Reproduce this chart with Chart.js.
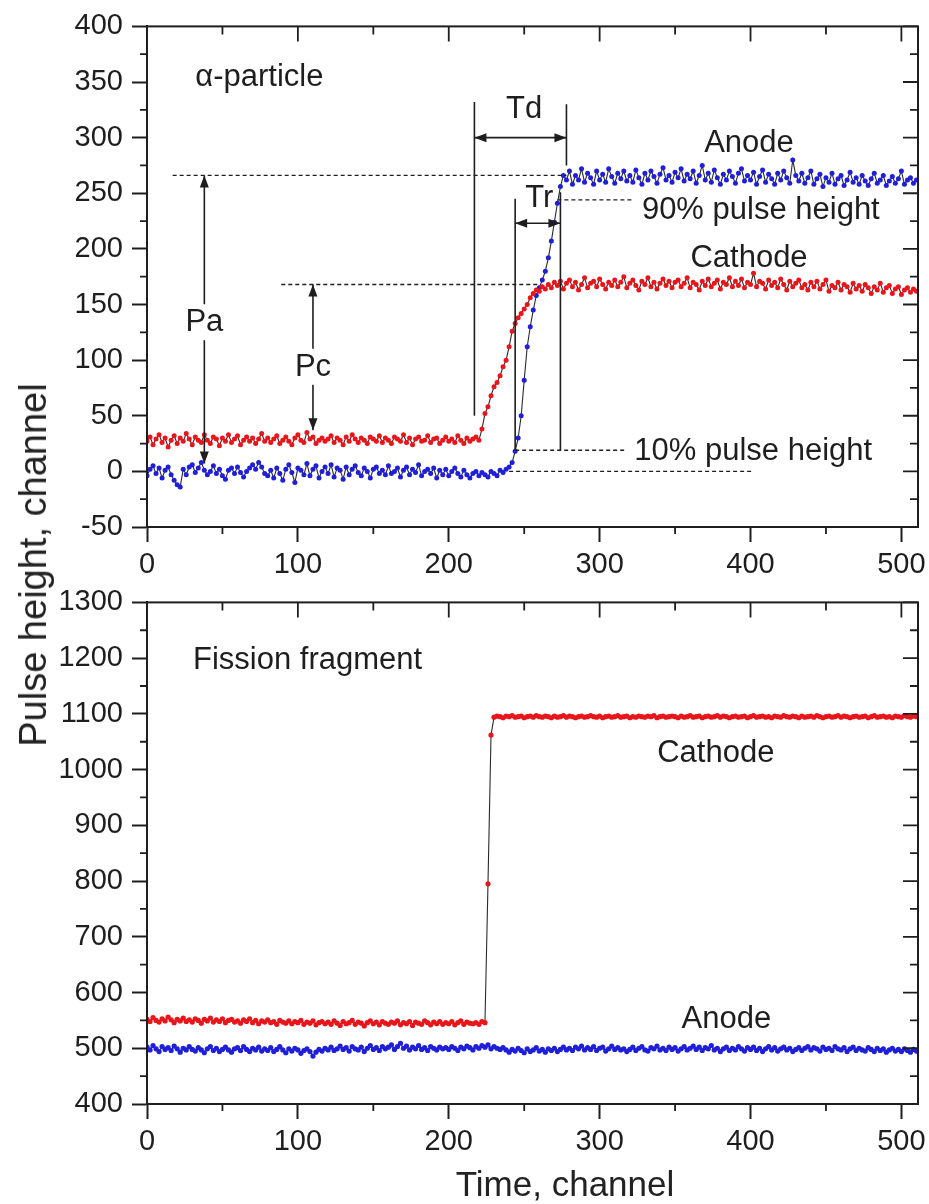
<!DOCTYPE html>
<html><head><meta charset="utf-8">
<script src="https://cdn.jsdelivr.net/npm/chart.js@4.4.1/dist/chart.umd.min.js"></script>
<style>
html,body{margin:0;padding:0;background:#fff;}
#wrap{position:relative;width:929px;height:1204px;overflow:hidden;font-family:"Liberation Sans",Arial,sans-serif;background:#fff;}
#c1{position:absolute;left:0;top:0;}
#c2{position:absolute;left:0;top:576px;}
.axt{position:absolute;white-space:nowrap;color:#222;line-height:1;}
</style></head><body>
<div id="wrap">
<canvas id="c1" width="929" height="600" style="width:929px;height:600px"></canvas>
<canvas id="c2" width="929" height="628" style="width:929px;height:628px"></canvas>
<div class="axt" style="left:33px;top:565px;font-size:38px;transform:translate(-50%,-50%) rotate(-90deg);">Pulse height, channel</div>
<div class="axt" style="left:565px;top:1183px;font-size:35px;transform:translate(-50%,-50%);">Time, channel</div>
</div>
<script>
// ---- data (channel step between samples) ----
const CH_STEP = 2;
const X_MAX = 511;

// Top panel (alpha particle), anode
const topAnode = [
 -4, 2, 5, -2, 3, -6, 1, 4, -3, -8, -12, -14, 2, -3, 4, 6, -1, 3, 8, 1,
 -3, 0, 5, -2, 2, -4, -7, 1, 3, -2, 4, -1, -5, 0, 3, 6, 2, 8, 4, -2,
 -4, 1, -6, 3, -2, -8, 2, 6, -1, -10, 3, 1, -3, 7, -4, 2, 5, -6, 0, 4,
 -2, 6, -5, 3, 1, -7, 4, -3, 2, 5, -1, -4, 3, 0, -6, 2, 4, -2, 1, -3,
 5, -2, 0, 3, -5, 1, 4, -3, 2, -1, 6, -4, 0, 2, -2, 3, -6, 1, -3, 2,
 -4, 0, 3, -2, -5, 1, -3, -6, -2, 0, -4, -1, -3, -5, 0, -2, -4, 1, -1, 2, 4,
 8, 18, 30, 50, 82, 112, 130, 145, 158, 165, 172, 180, 192, 207, 224, 241, 256, 266, 262,
 270, 258, 266, 262, 272, 260, 268, 264, 258, 270, 262, 267, 260, 272, 265, 259, 268, 263, 270, 261,
 266, 260, 271, 264, 258, 268, 262, 270, 265, 259, 267, 273, 262, 266, 260, 269, 264, 272, 261, 267,
 263, 270, 259, 266, 275, 262, 268, 260, 271, 264, 258, 267, 262, 270, 265, 259, 268, 272, 261, 266,
 262, 269, 258, 265, 271, 260, 267, 263, 258, 268, 262, 270, 264, 259, 280, 266, 261, 268, 259, 264,
 270, 258, 263, 267, 256, 264, 260, 268, 258, 263, 266, 257, 262, 269, 260, 264, 258, 266, 261, 257,
 263, 268, 259, 262, 266, 257, 261, 265, 259, 263, 270, 258, 262, 264, 259, 262
];
// Top panel, cathode
const topCathode = [
 27, 31, 24, 29, 33, 26, 30, 22, 28, 32, 25, 30, 27, 34, 29, 24, 31, 28, 26, 33,
 28, 25, 31, 29, 23, 30, 27, 33, 26, 29, 32, 24, 28, 31, 27, 30, 25, 29, 34, 27,
 30, 26, 29, 32, 25, 28, 31, 27, 24, 30, 33, 28, 26, 35, 29, 31, 25, 28, 30, 27,
 29, 32, 26, 30, 28, 24, 31, 27, 33, 29, 26, 30, 28, 25, 31, 29, 27, 32, 26, 30,
 28, 25, 31, 29, 27, 33, 26, 30, 24, 29, 31, 27, 28, 32, 26, 29, 30, 25, 28, 31,
 27, 29, 26, 32, 28, 25, 30, 27, 29, 31, 28,
 38, 52, 58, 68, 76, 80, 86, 94, 100, 112, 126, 133, 138, 142, 146, 150, 156, 160, 163, 162, 166, 164, 168, 165, 170,
 167, 171, 164, 169, 172, 166, 170, 163, 168, 174, 165, 169, 171, 166, 173, 168, 164, 170, 167, 172,
 166, 170, 175, 165, 169, 172, 167, 163, 171, 168, 174, 166, 170, 164, 169, 173, 167, 171, 165, 170,
 172, 166, 169, 174, 165, 170, 168, 163, 171, 167, 173, 166, 169, 172, 164, 170, 168, 174, 166, 171,
 167, 173, 165, 170, 168, 178, 166, 171, 169, 164, 172, 167, 170, 165, 173, 168, 163, 171, 166, 169,
 172, 165, 168, 163, 170, 166, 171, 164, 168, 172, 162, 167, 165, 170, 163, 168, 166, 161, 169, 164,
 167, 162, 168, 165, 160, 166, 163, 169, 161, 165, 167, 160, 164, 166, 159, 163, 165, 161, 164, 162
];
// Bottom panel (fission fragment), cathode
const bottomCathode = [
 552, 548, 555, 550, 547, 553, 549, 556, 551, 546, 552, 549, 554, 548, 551, 547, 553, 550, 545, 552,
 549, 554, 547, 551, 548, 553, 546, 550, 552, 547, 549, 545, 551, 548, 553, 546, 550, 544, 549, 547,
 551, 546, 548, 543, 550, 547, 545, 549, 544, 548, 546, 550, 543, 547, 545, 549, 542, 546, 548, 544,
 547, 543, 549, 545, 541, 548, 544, 546, 550, 543, 547, 545, 540, 546, 549, 544, 547, 542, 548, 545,
 543, 547, 545, 549, 542, 546, 544, 548, 541, 547, 545, 543, 549, 546, 542, 547, 544, 548, 543, 546,
 544, 548, 542, 546, 549, 543, 547, 545, 544, 546, 543, 548,
 546, 795, 1062,
 1094, 1096, 1095, 1093, 1096, 1095, 1097, 1094, 1095, 1096,
 1093, 1095, 1096, 1094, 1097, 1095, 1094, 1096, 1095, 1093,
 1096, 1094, 1095, 1097, 1094, 1096, 1095, 1093, 1095, 1096,
 1094, 1095, 1097, 1095, 1094, 1096, 1093, 1095, 1096, 1094,
 1095, 1097, 1094, 1095, 1096, 1093, 1095, 1094, 1096, 1095,
 1094, 1096, 1095, 1097, 1093, 1095, 1096, 1094, 1095, 1096,
 1095, 1093, 1096, 1094, 1095, 1097, 1094, 1095, 1096, 1093,
 1095, 1096, 1094, 1095, 1097, 1094, 1096, 1095, 1093, 1095,
 1096, 1094, 1095, 1096, 1093, 1095, 1097, 1094, 1095, 1096,
 1094, 1095, 1093, 1096, 1095, 1094, 1097, 1095, 1094, 1096,
 1095, 1093, 1096, 1094, 1095, 1096, 1094, 1097, 1095, 1093,
 1095, 1096, 1094, 1095, 1097, 1094, 1096, 1095, 1093, 1095,
 1096, 1094, 1095, 1096, 1093, 1095, 1097, 1094, 1095, 1096,
 1094, 1095, 1093, 1096, 1095, 1094, 1097, 1095, 1094, 1096,
 1095
];
// Bottom panel, anode
const bottomAnode = [
 502, 497, 505, 499, 494, 503, 498, 501, 496, 504, 499, 493, 500, 497, 503, 498, 495, 501, 497, 492,
 499, 503, 496, 500, 494, 498, 502, 497, 493, 499, 501, 496, 503, 498, 494, 500, 497, 502, 495, 499,
 496, 501, 494, 498, 503, 497, 492, 499, 495, 500, 497, 491, 496, 499, 494, 486, 493, 498, 495, 500,
 497, 502, 496, 499, 504, 498, 501, 495, 503, 499, 497, 502, 494, 500, 505, 498, 501, 496, 503, 499,
 502, 506, 498, 503, 509, 500, 504, 497, 502, 499, 505, 498, 501, 496, 503, 500, 497, 502, 499, 501,
 498, 503, 500, 496, 502, 499, 504, 501, 497, 503, 500, 505, 502, 506, 499, 503, 500, 498, 501, 497,
 493, 498, 495, 500, 496, 492, 499, 494, 497, 501, 495, 498, 493, 499, 496, 500, 494, 498, 502, 497,
 500, 496, 502, 499, 504, 497, 501, 498, 503, 496, 500, 502, 495, 499, 504, 498, 501, 497, 499, 494,
 498, 502, 496, 500, 503, 497, 495, 501, 499, 504, 497, 500, 496, 502, 498, 501, 495, 499, 503, 497,
 500, 504, 498, 502, 496, 501, 499, 505, 497, 500, 494, 499, 502, 496, 500, 497, 503, 499, 495, 501,
 498, 502, 496, 500, 494, 499, 503, 497, 501, 495, 499, 502, 497, 500, 494, 498, 501, 496, 500, 503,
 497, 501, 499, 495, 502, 498, 500, 496, 503, 499, 497, 501, 494, 499, 502, 496, 500, 497, 495, 501,
 498, 494, 500, 496, 499, 493, 497, 500, 495, 498, 494, 499, 496, 493, 498, 495
];

// axis ranges / ticks
const xTicks = {min: 0, max: X_MAX, major: 100, minor: 50};
const topY = {min: -50, max: 400, major: 50, minor: 25};
const bottomY = {min: 400, max: 1300, major: 100, minor: 50};

// annotations (data coordinates)
const topNotes = {
  texts: [
    {t: 'α-particle', x: 32, y: 346, align: 'left'},
    {t: 'Td', x: 250, y: 318, align: 'center'},
    {t: 'Tr', x: 260, y: 238, align: 'center'},
    {t: 'Anode', x: 399, y: 287, align: 'center'},
    {t: 'Cathode', x: 399, y: 184, align: 'center'},
    {t: '90% pulse height', x: 328, y: 227, align: 'left'},
    {t: '10% pulse height', x: 323, y: 10, align: 'left'}
  ],
  dashed: [[17, 278, 266], [89, 260, 168], [240, 401, 0], [244, 318, 19], [272, 322, 244]],
  vlines: [[217, 50, 332], [278, 275, 330], [244, 19, 245], [274, 19, 251]],
  harrows: [[217, 278, 300], [244, 274, 223]],
  varrows: [{x: 38, y1: 266, y2: 7, label: 'Pa', ly: 126}, {x: 110, y1: 168, y2: 37, label: 'Pc', ly: 86}]
};
const bottomNotes = {
  texts: [
    {t: 'Fission fragment', x: 30.5, y: 1180, align: 'left'},
    {t: 'Cathode', x: 377, y: 1014, align: 'center'},
    {t: 'Anode', x: 384, y: 536, align: 'center'}
  ],
  dashed: [], vlines: [], harrows: [], varrows: []
};

const FONT = '"Liberation Sans", Arial, sans-serif';
const INK = '#1e1e1e';
const RED = '#e8161b';
const BLUE = '#1f1fd8';

const toPts = arr => arr.map((v, i) => ({x: i * CH_STEP, y: v}));

const framePlugin = {
  id: 'frame',
  afterDraw(chart, args, o) {
    const {ctx, chartArea: a, scales: {x, y}} = chart;
    ctx.save();
    ctx.strokeStyle = INK;
    ctx.lineWidth = 2;
    ctx.strokeRect(a.left, a.top, a.right - a.left, a.bottom - a.top);
    ctx.lineWidth = 1.8;
    ctx.beginPath();
    for (let v = o.x.min; v <= o.x.max; v += o.x.minor) {
      const px = x.getPixelForValue(v);
      const major = v % o.x.major === 0;
      ctx.moveTo(px, a.top); ctx.lineTo(px, a.top + (major ? 15 : 8));
      if (!major) { ctx.moveTo(px, a.bottom); ctx.lineTo(px, a.bottom + 7); }
    }
    for (let v = o.y.min; v <= o.y.max; v += o.y.minor) {
      const py = y.getPixelForValue(v);
      const major = (v - o.y.min) % o.y.major === 0;
      ctx.moveTo(a.right, py); ctx.lineTo(a.right - (major ? 15 : 8), py);
      if (!major) { ctx.moveTo(a.left, py); ctx.lineTo(a.left - 7, py); }
    }
    ctx.stroke();
    ctx.restore();
  }
};

function arrowHead(ctx, tx, ty, dx, dy) {
  const L = 12, W = 4.5;
  const bx = tx - dx * L, by = ty - dy * L;
  ctx.beginPath();
  ctx.moveTo(tx, ty);
  ctx.lineTo(bx - dy * W, by + dx * W);
  ctx.lineTo(bx + dy * W, by - dx * W);
  ctx.closePath();
  ctx.fill();
}

const notesPlugin = {
  id: 'notes',
  afterDatasetsDraw(chart, args, n) {
    const {ctx, scales: {x, y}} = chart;
    const X = v => x.getPixelForValue(v), Y = v => y.getPixelForValue(v);
    ctx.save();
    ctx.strokeStyle = INK; ctx.fillStyle = INK; ctx.lineWidth = 1.3;
    ctx.setLineDash([4, 3]);
    ctx.beginPath();
    n.dashed.forEach(([x1, x2, yy]) => { ctx.moveTo(X(x1), Y(yy)); ctx.lineTo(X(x2), Y(yy)); });
    ctx.stroke();
    ctx.setLineDash([]);
    ctx.lineWidth = 1.6;
    ctx.beginPath();
    n.vlines.forEach(([xx, y1, y2]) => { ctx.moveTo(X(xx), Y(y1)); ctx.lineTo(X(xx), Y(y2)); });
    n.harrows.forEach(([x1, x2, yy]) => { ctx.moveTo(X(x1), Y(yy)); ctx.lineTo(X(x2), Y(yy)); });
    ctx.stroke();
    n.harrows.forEach(([x1, x2, yy]) => {
      arrowHead(ctx, X(x1), Y(yy), -1, 0);
      arrowHead(ctx, X(x2), Y(yy), 1, 0);
    });
    ctx.font = '31px ' + FONT;
    ctx.textBaseline = 'alphabetic';
    n.varrows.forEach(a => {
      const px = X(a.x), top = Y(a.y1), bot = Y(a.y2), base = Y(a.ly);
      ctx.beginPath();
      ctx.moveTo(px, top); ctx.lineTo(px, base - 27);
      ctx.moveTo(px, base + 9); ctx.lineTo(px, bot);
      ctx.stroke();
      arrowHead(ctx, px, top, 0, -1);
      arrowHead(ctx, px, bot, 0, 1);
      ctx.textAlign = 'center';
      ctx.fillText(a.label, px, base);
    });
    n.texts.forEach(t => {
      ctx.textAlign = t.align;
      ctx.fillText(t.t, X(t.x), Y(t.y));
    });
    ctx.restore();
  }
};

function scaleX(axisH) {
  return {
    type: 'linear', min: xTicks.min, max: xTicks.max,
    ticks: {stepSize: xTicks.major, includeBounds: false, color: INK, font: {family: FONT, size: 29}, padding: 6, maxRotation: 0, autoSkip: false, callback: v => String(v)},
    grid: {display: true, drawOnChartArea: false, drawTicks: true, tickLength: 15, tickWidth: 2, tickColor: INK, color: INK},
    border: {display: true, color: INK, width: 2},
    afterFit: s => { s.height = axisH; s.paddingLeft = 0; s.paddingRight = 0; }
  };
}
function scaleY(r) {
  return {
    type: 'linear', min: r.min, max: r.max,
    ticks: {stepSize: r.major, includeBounds: false, color: INK, font: {family: FONT, size: 29}, padding: 9, callback: v => String(v)},
    grid: {display: true, drawOnChartArea: false, drawTicks: true, tickLength: 15, tickWidth: 2, tickColor: INK, color: INK},
    border: {display: true, color: INK, width: 2},
    afterFit: s => { s.width = 147; }
  };
}
function ds(label, arr, col, r) {
  return {
    label, data: toPts(arr), borderColor: '#2a2a2a', borderWidth: 1.1,
    pointRadius: r, pointBackgroundColor: col, pointBorderColor: col, pointBorderWidth: 0,
    tension: 0, showLine: true
  };
}
function makeChart(id, datasets, yr, notes, axisH) {
  return new Chart(document.getElementById(id), {
    type: 'line',
    data: {datasets},
    options: {
      responsive: false, animation: false, devicePixelRatio: 1, events: [],
      layout: {padding: {top: 24, right: 11, left: 0, bottom: 0}},
      scales: {x: scaleX(axisH), y: scaleY(yr)},
      plugins: {legend: {display: false}, tooltip: {enabled: false},
        frame: {x: xTicks, y: yr}, notes}
    },
    plugins: [notesPlugin, framePlugin]
  });
}
makeChart('c1', [ds('Cathode', topCathode, RED, 2.5), ds('Anode', topAnode, BLUE, 2.5)], topY, topNotes, 73);
makeChart('c2', [ds('Cathode', bottomCathode, RED, 2.6), ds('Anode', bottomAnode, BLUE, 2.6)], bottomY, bottomNotes, 100);
</script>
</body></html>
